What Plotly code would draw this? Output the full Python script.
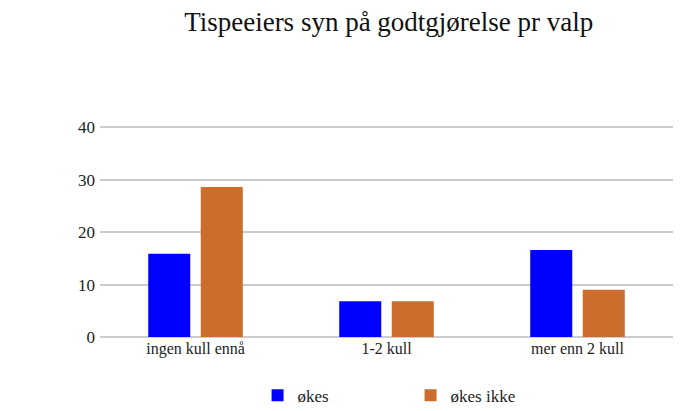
import plotly.graph_objects as go

categories = ["ingen kull ennå", "1-2 kull", "mer enn 2 kull"]
okes = [15.9, 6.8, 16.6]
okes_ikke = [28.6, 6.8, 9.0]
series_names = ["økes", "økes ikke"]
y_ticks = [0, 10, 20, 30, 40]

FONT = "Liberation Serif, Times New Roman, serif"

fig = go.Figure()
fig.add_trace(go.Bar(x=categories, y=okes, name=series_names[0], marker_color="#0000ff",
                     marker_line_width=0))
fig.add_trace(go.Bar(x=categories, y=okes_ikke, name=series_names[1], marker_color="#cc6d2e",
                     marker_line_width=0))

fig.update_layout(
    width=691, height=411,
    margin=dict(l=92, r=26, t=118, b=82, autoexpand=False),
    paper_bgcolor="white", plot_bgcolor="white",
    barmode="group", bargap=0.45, bargroupgap=0.2,
    font=dict(family=FONT, size=16, color="#222222"),
    title=dict(text="Tispeeiers syn på godtgjørelse pr valp", x=0.551, xanchor="center",
               y=0.966, yanchor="middle", font=dict(family=FONT, size=27, color="#111111")),
    showlegend=True,
    legend=dict(orientation="h", x=0.542, xanchor="center", y=-0.193, yanchor="top",
                font=dict(family=FONT, size=17, color="#222222"),
                entrywidth=108, entrywidthmode="pixels", traceorder="normal"),
    xaxis=dict(showgrid=False, showline=False, ticks="",
               tickfont=dict(family=FONT, size=16, color="#222222")),
    yaxis=dict(range=[0, 40.25], tickvals=y_ticks, showgrid=True, gridcolor="#cccccc",
               gridwidth=2, zeroline=True, zerolinecolor="#cccccc", zerolinewidth=2,
               ticks="", ticklabelstandoff=4,
               tickfont=dict(family=FONT, size=17, color="#222222")),
)

fig.write_html("out.html")
